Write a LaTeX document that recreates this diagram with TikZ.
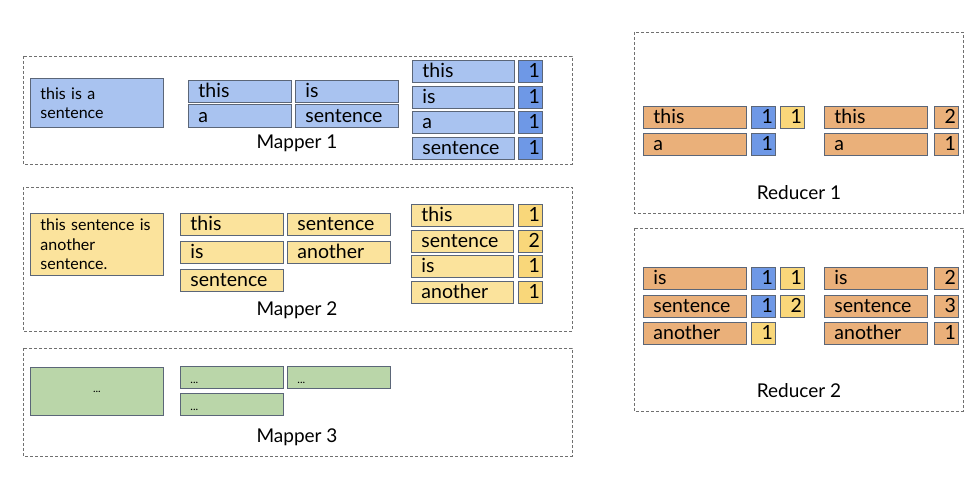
\documentclass[tikz,border=0pt]{standalone}
\usepackage{fontspec}
\setmainfont{Lato}

\definecolor{bluelight}{HTML}{A9C3F0}
\definecolor{bluedark}{HTML}{6E98E6}
\definecolor{yellowlight}{HTML}{FBE39C}
\definecolor{yellowdark}{HTML}{F9D77A}
\definecolor{greenlight}{HTML}{BAD6A9}
\definecolor{orangemid}{HTML}{EAB07A}
\definecolor{boxline}{HTML}{5B6678}
\definecolor{dashline}{HTML}{707070}

\tikzset{
  box/.style={draw=boxline, line width=0.9pt, anchor=north west, inner ysep=0pt,
    text height=15pt, text depth=3pt, minimum height=22.5pt,
    font=\fontsize{19.5}{19.5}\selectfont},
  word/.style={box, inner xsep=10pt, text width=83pt, align=left},
  pairword/.style={box, inner xsep=10pt, text width=82pt, align=left},
  count/.style={box, inner xsep=2.5pt, text width=19pt, align=right},
  inbox/.style={draw=boxline, line width=0.9pt, anchor=north west, inner xsep=10pt,
    text width=113pt, align=left, minimum width=133pt,
    font=\fontsize{16}{19.5}\selectfont},
  dotbox/.style={box, inner xsep=10pt, text width=83pt, align=left,
    font=\fontsize{11}{11}\selectfont},
  groupbox/.style={draw=dashline, line width=0.8pt, dash pattern=on 3pt off 2pt},
  grouplabel/.style={font=\fontsize{19}{19}\selectfont},
}

\begin{document}
\begin{tikzpicture}[x=1pt, y=-1pt]

  % Bounding box of the scheme
  \useasboundingbox (0,0) rectangle (978,478) ;

  %%%%%%%%%%%%%%%%%%%%%%%%%%%%%%%%% Groups (dashed frames) %%%%%%%%%%%%%%%%%%%%%%%%%%%%%%%%%%%%
  \draw[groupbox] (23,56) rectangle (572,164) ;
  \draw[groupbox] (23,187) rectangle (572,331) ;
  \draw[groupbox] (23,348) rectangle (572,456) ;
  \draw[groupbox] (634,32) rectangle (963,213) ;
  \draw[groupbox] (634,228) rectangle (963,411) ;

  \draw (297,143) node[grouplabel] (m1lab) {Mapper 1} ;
  \draw (297,310) node[grouplabel] (m2lab) {Mapper 2} ;
  \draw (297,437) node[grouplabel] (m3lab) {Mapper 3} ;
  \draw (799,193) node[grouplabel] (r1lab) {Reducer 1} ;
  \draw (799,391) node[grouplabel] (r2lab) {Reducer 2} ;

  %%%%%%%%%%%%%%%%%%%%%%%%%%%%%%%%% Mapper 1 %%%%%%%%%%%%%%%%%%%%%%%%%%%%%%%%%%%%
  % Input
  \draw (30,78) node[inbox, fill=bluelight, minimum height=49pt] (m1in) {this is a\\sentence} ;

  % Words
  \foreach \x/\y/\w [count=\i] in {188/80/this, 295/80/is, 188/104.5/a, 295/104.5/sentence} {
    \draw (\x,\y) node[word, fill=bluelight] (m1w\i) {\w} ;
  }

  % Pairs
  \foreach \y/\w/\c [count=\i] in {60/this/1, 86/is/1, 111/a/1, 137/sentence/1} {
    \draw (412,\y) node[pairword, fill=bluelight] (m1p\i) {\w} ;
    \draw (518,\y) node[count, fill=bluedark] (m1c\i) {\c} ;
  }

  %%%%%%%%%%%%%%%%%%%%%%%%%%%%%%%%% Mapper 2 %%%%%%%%%%%%%%%%%%%%%%%%%%%%%%%%%%%%
  % Input
  \draw (30,213) node[inbox, fill=yellowlight, minimum height=62pt] (m2in) {this sentence is\\another\\sentence.} ;

  % Words
  \foreach \x/\y/\w [count=\i] in {180/213/this, 287/213/sentence, 180/241/is, 287/241/another, 180/269/sentence} {
    \draw (\x,\y) node[word, fill=yellowlight] (m2w\i) {\w} ;
  }

  % Pairs
  \foreach \y/\w/\c [count=\i] in {204/this/1, 230/sentence/2, 255/is/1, 281/another/1} {
    \draw (411,\y) node[pairword, fill=yellowlight] (m2p\i) {\w} ;
    \draw (518,\y) node[count, fill=yellowdark] (m2c\i) {\c} ;
  }

  %%%%%%%%%%%%%%%%%%%%%%%%%%%%%%%%% Mapper 3 %%%%%%%%%%%%%%%%%%%%%%%%%%%%%%%%%%%%
  \draw (30,367) node[inbox, fill=greenlight, minimum height=48pt, align=center,
    font=\fontsize{11}{11}\selectfont] (m3in) {...} ;

  \foreach \x/\y [count=\i] in {180/366, 287/366, 180/393} {
    \draw (\x,\y) node[dotbox, fill=greenlight] (m3w\i) {...} ;
  }

  %%%%%%%%%%%%%%%%%%%%%%%%%%%%%%%%% Reducer 1 %%%%%%%%%%%%%%%%%%%%%%%%%%%%%%%%%%%%
  \draw (643,106) node[word, fill=orangemid] (r1w1) {this} ;
  \draw (751,106) node[count, fill=bluedark] (r1b1) {1} ;
  \draw (780,106) node[count, fill=yellowdark] (r1y1) {1} ;
  \draw (824,106) node[word, fill=orangemid] (r1s1) {this} ;
  \draw (934,106) node[count, fill=orangemid] (r1t1) {2} ;

  \draw (643,133) node[word, fill=orangemid] (r1w2) {a} ;
  \draw (751,133) node[count, fill=bluedark] (r1b2) {1} ;
  \draw (824,133) node[word, fill=orangemid] (r1s2) {a} ;
  \draw (934,133) node[count, fill=orangemid] (r1t2) {1} ;

  %%%%%%%%%%%%%%%%%%%%%%%%%%%%%%%%% Reducer 2 %%%%%%%%%%%%%%%%%%%%%%%%%%%%%%%%%%%%
  \draw (643,267) node[word, fill=orangemid] (r2w1) {is} ;
  \draw (751,267) node[count, fill=bluedark] (r2b1) {1} ;
  \draw (780,267) node[count, fill=yellowdark] (r2y1) {1} ;
  \draw (824,267) node[word, fill=orangemid] (r2s1) {is} ;
  \draw (934,267) node[count, fill=orangemid] (r2t1) {2} ;

  \draw (643,295) node[word, fill=orangemid] (r2w2) {sentence} ;
  \draw (751,295) node[count, fill=bluedark] (r2b2) {1} ;
  \draw (780,295) node[count, fill=yellowdark] (r2y2) {2} ;
  \draw (824,295) node[word, fill=orangemid] (r2s2) {sentence} ;
  \draw (934,295) node[count, fill=orangemid] (r2t2) {3} ;

  \draw (643,322) node[word, fill=orangemid] (r2w3) {another} ;
  \draw (751,322) node[count, fill=yellowdark] (r2y3) {1} ;
  \draw (824,322) node[word, fill=orangemid] (r2s3) {another} ;
  \draw (934,322) node[count, fill=orangemid] (r2t3) {1} ;

\end{tikzpicture}
\end{document}
